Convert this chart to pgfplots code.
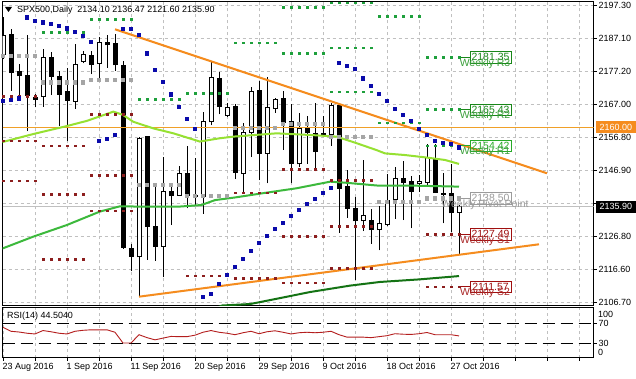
\documentclass[border=0pt]{standalone}
\usepackage{fontspec}
\setmainfont{Liberation Sans}
\usepackage{pgfplots}
\usepackage{pgfplotstable}
\pgfplotsset{compat=1.18}

\definecolor{gridc}{RGB}{192,192,192}
\definecolor{orng}{RGB}{245,140,30}
\definecolor{hlorng}{RGB}{240,160,40}
\definecolor{lgreen}{RGB}{150,225,50}
\definecolor{mgreen}{RGB}{60,185,60}
\definecolor{dgreen}{RGB}{20,115,20}
\definecolor{sarblue}{RGB}{10,10,170}
\definecolor{rdot}{RGB}{30,160,60}
\definecolor{pdot}{RGB}{165,165,165}
\definecolor{sdot}{RGB}{140,30,30}
\definecolor{rsic}{RGB}{180,30,30}
\definecolor{rlab}{RGB}{25,135,25}
\definecolor{rtxt}{RGB}{60,160,60}
\definecolor{r1lab}{RGB}{40,170,40}
\definecolor{plab}{RGB}{155,155,155}
\definecolor{slab}{RGB}{160,15,15}
\definecolor{stxt}{RGB}{170,40,40}

\pgfplotstableread{
x o h l c
0 2182.3 2193.6 2180.8 2187.9
1 2188.4 2190.0 2171.1 2176.7
2 2176.9 2179.2 2169.8 2175.7
3 2175.7 2188.1 2158.8 2169.8
4 2169.2 2170.1 2166.1 2168.5
5 2169.4 2183.8 2166.3 2181.3
6 2181.3 2182.8 2169.8 2175.5
7 2175.5 2177.2 2160.4 2170.1
8 2170.8 2178.2 2155.8 2168.3
9 2168.0 2185.4 2165.7 2179.2
10 2180.0 2183.1 2179.5 2182.3
11 2182.0 2183.3 2176.2 2179.2
12 2179.5 2187.4 2174.9 2185.7
13 2185.7 2188.1 2178.2 2185.1
14 2185.4 2188.4 2177.2 2179.0
15 2178.7 2180.2 2123.1 2123.6
16 2123.1 2124.4 2116.3 2120.9
17 2120.6 2157.1 2108.3 2156.5
18 2157.1 2157.3 2119.8 2130.0
19 2130.0 2142.0 2119.5 2123.8
20 2123.8 2151.0 2114.4 2140.5
21 2140.4 2143.0 2130.3 2139.2
22 2139.4 2148.4 2139.1 2145.9
23 2145.9 2154.4 2135.4 2139.2
24 2139.4 2150.7 2136.4 2138.9
25 2138.9 2164.8 2133.8 2161.7
26 2161.7 2180.0 2160.6 2175.2
27 2174.9 2176.7 2164.0 2166.3
28 2163.6 2167.5 2163.2 2166.0
29 2166.3 2167.0 2144.3 2146.3
30 2146.1 2161.4 2140.5 2158.6
31 2158.6 2172.4 2151.0 2170.9
32 2171.3 2174.1 2144.0 2152.2
33 2152.2 2175.2 2143.0 2166.0
34 2165.7 2168.8 2164.5 2168.5
35 2168.7 2171.1 2153.2 2161.4
36 2161.7 2167.0 2143.0 2148.9
37 2148.9 2164.5 2148.1 2159.7
38 2159.7 2163.4 2148.9 2158.5
39 2158.3 2167.5 2146.6 2152.7
40 2158.3 2163.4 2157.1 2157.8
41 2157.8 2167.5 2154.4 2166.7
42 2166.7 2167.0 2128.0 2141.5
43 2142.0 2147.1 2132.6 2135.4
44 2135.4 2138.7 2113.6 2131.6
45 2131.6 2150.2 2128.5 2133.3
46 2131.6 2135.1 2124.7 2128.9
47 2128.9 2136.1 2122.6 2130.8
48 2130.5 2145.9 2129.9 2137.9
49 2138.1 2148.1 2132.3 2144.6
50 2144.6 2149.7 2131.8 2143.2
51 2143.5 2145.1 2129.3 2140.5
52 2143.0 2145.6 2140.5 2143.6
53 2143.2 2155.1 2142.5 2150.7
54 2150.2 2155.1 2140.0 2140.2
55 2140.0 2146.1 2130.8 2139.5
56 2139.8 2148.9 2128.2 2134.0
57 2134.10 2136.47 2121.60 2135.90
}\candles

\pgfplotstableread{
x s
0 2168.13
1 2168.49
2 2168.86
3 2193.49
4 2192.51
5 2191.97
6 2191.45
7 2190.84
8 2190.14
9 2189.17
10 2187.80
11 2186.13
12 2155.96
13 2156.63
14 2157.70
15 2190.02
16 2190.02
17 2188.10
18 2182.54
19 2177.67
20 2173.90
21 2170.07
22 2166.30
23 2162.77
24 2159.73
25 2108.52
26 2109.35
27 2112.39
28 2115.12
29 2117.56
30 2120.20
31 2122.51
32 2124.95
33 2126.98
34 2129.11
35 2131.03
36 2133.06
37 2134.89
38 2136.71
39 2138.23
40 2140.15
41 2141.67
42 2179.68
43 2178.77
44 2177.76
45 2174.94
46 2172.60
47 2170.16
48 2168.03
49 2165.81
50 2163.78
51 2162.04
52 2159.73
53 2157.90
54 2156.08
55 2155.27
56 2155.01
57 2153.96
}\sar

\pgfplotstableread{
x R3 R2 R1 P S1 S2 S3
0 nan nan nan 2181.72 2169.55 2155.96 2143.80
1 nan nan nan 2181.72 2169.55 2155.96 2143.80
2 nan nan nan 2181.72 2169.55 2155.96 2143.80
3 nan nan nan 2181.72 2169.55 2155.96 2143.80
4 nan nan nan 2181.72 2169.55 2155.96 2143.80
5 nan nan 2188.92 2173.72 2154.44 2139.66 2119.90
6 nan nan 2188.92 2173.72 2154.44 2139.66 2119.90
7 nan nan 2188.92 2173.72 2154.44 2139.66 2119.90
8 nan nan 2188.92 2173.72 2154.44 2139.66 2119.90
9 nan nan 2188.92 2173.72 2154.44 2139.66 2119.90
10 nan nan 2188.92 2173.72 2154.44 2139.66 2119.90
11 nan nan 2192.88 2174.42 2163.99 2145.53 2134.68
12 nan nan 2192.88 2174.42 2163.99 2145.53 2134.68
13 nan nan 2192.88 2174.42 2163.99 2145.53 2134.68
14 nan nan 2192.88 2174.42 2163.99 2145.53 2134.68
15 nan nan 2192.88 2174.42 2163.99 2145.53 2134.68
16 nan nan 2192.88 2174.42 2163.99 2145.53 2134.68
17 nan nan 2168.64 2142.49 nan nan nan
18 nan nan 2168.64 2142.49 nan nan nan
19 nan nan 2168.64 2142.49 nan nan nan
20 nan nan 2168.64 2142.49 nan nan nan
21 nan nan 2168.64 2142.49 nan nan nan
22 nan nan 2168.64 2142.49 nan nan nan
23 nan nan 2170.38 2139.24 2114.91 nan nan
24 nan nan 2170.38 2139.24 2114.91 nan nan
25 nan nan 2170.38 2139.24 2114.91 nan nan
26 nan nan 2170.38 2139.24 2114.91 nan nan
27 nan nan 2170.38 2139.24 2114.91 nan nan
28 nan nan 2170.38 2139.24 2114.91 nan nan
29 nan nan 2185.76 2159.92 2140.15 2114.12 nan
30 nan nan 2185.76 2159.92 2140.15 2114.12 nan
31 nan nan 2185.76 2159.92 2140.15 2114.12 nan
32 nan nan 2185.76 2159.92 2140.15 2114.12 nan
33 nan nan 2185.76 2159.92 2140.15 2114.12 nan
34 nan nan 2185.76 2159.92 2140.15 2114.12 nan
35 nan 2196.53 2182.54 2161.25 2147.36 2126.89 2112.78
36 nan 2196.53 2182.54 2161.25 2147.36 2126.89 2112.78
37 nan 2196.53 2182.54 2161.25 2147.36 2126.89 2112.78
38 nan 2196.53 2182.54 2161.25 2147.36 2126.89 2112.78
39 nan 2196.53 2182.54 2161.25 2147.36 2126.89 2112.78
40 nan 2196.53 2182.54 2161.25 2147.36 2126.89 2112.78
41 2197.93 2184.24 2170.86 2157.18 2144.01 2130.02 2117.16
42 2197.93 2184.24 2170.86 2157.18 2144.01 2130.02 2117.16
43 2197.93 2184.24 2170.86 2157.18 2144.01 2130.02 2117.16
44 2197.93 2184.24 2170.86 2157.18 2144.01 2130.02 2117.16
45 2197.93 2184.24 2170.86 2157.18 2144.01 2130.02 2117.16
46 2197.93 2184.24 2170.86 2157.18 2144.01 2130.02 2117.16
47 nan 2193.88 2161.44 2137.41 nan nan nan
48 nan 2193.88 2161.44 2137.41 nan nan nan
49 nan 2193.88 2161.44 2137.41 nan nan nan
50 nan 2193.88 2161.44 2137.41 nan nan nan
51 nan 2193.88 2161.44 2137.41 nan nan nan
52 nan 2193.88 2161.44 2137.41 nan nan nan
53 2181.35 2165.43 2154.42 2138.50 2127.49 2111.57 nan
54 2181.35 2165.43 2154.42 2138.50 2127.49 2111.57 nan
55 2181.35 2165.43 2154.42 2138.50 2127.49 2111.57 nan
56 2181.35 2165.43 2154.42 2138.50 2127.49 2111.57 nan
57 2181.35 2165.43 2154.42 2138.50 2127.49 2111.57 nan
}\piv

\pgfplotstableread{
x r
0 62
1 54
2 52.5
3 50
4 48.5
5 55.5
6 53
7 50
8 48.5
9 54
10 56
11 57
12 57
13 57
14 52
15 30
16 30
17 47
18 41
19 36.5
20 40
21 43.5
22 43
23 43
24 46
25 52
26 55.5
27 52
28 50
29 47
30 51
31 54
32 49
33 53
34 55
35 52
36 48.5
37 51
38 52
39 51
40 52
41 54
42 47
43 42
44 42
45 42
46 41
47 43
48 45
49 49
50 48
51 47.5
52 49
53 51.5
54 47
55 47
56 47
57 44.5
}\rsidata

\begin{document}
\begin{tikzpicture}
\useasboundingbox (0,0) rectangle (636bp,379bp);
\fill[white] (0,0) rectangle (636bp,379bp);

\begin{axis}[
  name=main, at={(2.5bp,73.5bp)}, anchor=south west,
  scale only axis, width=591bp, height=303.5bp,
  xmin=-0.0625, xmax=73.8125, ymin=2105.85, ymax=2198.14,
  axis line style={line width=1bp, black},
  xtick={4,8,...,72}, xticklabels={}, xmajorgrids,
  ytick={2106.70,2116.75,2126.80,2136.85,2146.90,2156.95,2167.00,2177.05,2187.10,2197.15},
  yticklabels={2106.70,2116.60,2126.80,,2146.90,2156.80,2167.00,2177.20,2187.10,2197.30},
  ymajorgrids,
  grid style={gridc, dash pattern=on 3bp off 3bp, line width=0.8bp},
  major tick length=3bp,
  xtick style={draw=none},
  ytick pos=right, yticklabel pos=right, ytick align=outside,
  ytick style={black, line width=0.8bp},
  tick label style={font=\fontsize{9}{10}\selectfont, text=black},
  yticklabel style={anchor=west, inner sep=0pt, xshift=2bp},
  unbounded coords=discard,
]
% current price line
\addplot[gridc, line width=1bp] coordinates {(-0.0625,2135.9) (73.8125,2135.9)};
% candles: wicks
\addplot[black, line width=1bp, mark=none, quiver={u=0, v={\thisrow{h}-\thisrow{l}}}]
  table[x=x, y=l] {\candles};
% bullish bodies: black outline then white inside
\addplot[black, line width=5bp, mark=none, quiver={u=0, v={\thisrow{c}-\thisrow{o}+0.304}}]
  table[x=x, y expr={\thisrow{c}>=\thisrow{o} ? \thisrow{o}-0.152 : nan}] {\candles};
\addplot[white, line width=3bp, mark=none, quiver={u=0, v={max(\thisrow{c}-\thisrow{o}-0.304,0)}}]
  table[x=x, y expr={\thisrow{c}>=\thisrow{o} ? \thisrow{o}+0.152 : nan}] {\candles};
% bearish bodies
\addplot[black, line width=5bp, mark=none, quiver={u=0, v={\thisrow{o}-\thisrow{c}+0.304}}]
  table[x=x, y expr={\thisrow{c}<\thisrow{o} ? \thisrow{c}-0.152 : nan}] {\candles};
% horizontal 2160 line
\addplot[hlorng, line width=1bp] coordinates {(-0.0625,2160) (73.8125,2160)};
% moving averages
\addplot[lgreen, line width=2bp] coordinates {(-0.375,2155.35) (3.8,2158.0) (7.96,2160.4) (10.5,2162.0) (13.8,2164.8) (15.0,2163.8) (16.3,2161.7) (18.8,2159.7) (21.3,2158.2) (24.6,2155.7) (27.1,2156.7) (28.8,2157.2) (34.2,2158.2) (38.4,2157.7) (41.7,2157.2) (44.2,2155.2) (46.7,2153.1) (47.75,2152.1) (50.25,2151.6) (52.75,2150.9) (55.25,2150.1) (57,2148.9)};
\addplot[mgreen, line width=2bp] coordinates {(-0.375,2122.9) (3.8,2126.8) (7.96,2130.3) (12.1,2134.4) (14.6,2136.0) (18.2,2135.9) (21.9,2135.9) (24.8,2136.4) (26.5,2137.9) (29,2138.7) (32.5,2140.0) (36.7,2141.5) (40.9,2143.5) (42.75,2143.2) (46.9,2142.3) (51.1,2142.3) (57,2142.0)};
\addplot[dgreen, line width=2bp] coordinates {(26,2104.5) (27.4,2105.85) (30.9,2106.3) (33.4,2107.5) (38.4,2109.95) (43.4,2111.9) (47.1,2113.0) (52.1,2113.8) (57,2114.8)};
% trend lines
\addplot[orng, line width=2bp] coordinates {(14,2189.84) (68,2146.05)};
\addplot[orng, line width=2bp] coordinates {(17,2108.53) (67,2124.46)};
% pivot dots
\addplot[only marks, mark=square*, mark size=0.9bp, rdot, mark options={draw=none}] table[x=x,y=R3] {\piv};
\addplot[only marks, mark=square*, mark size=0.9bp, rdot, mark options={draw=none}] table[x=x,y=R2] {\piv};
\addplot[only marks, mark=square*, mark size=0.9bp, rdot, mark options={draw=none}] table[x=x,y=R1] {\piv};
\addplot[only marks, mark=square*, mark size=1.6bp, pdot, mark options={draw=none}] table[x=x,y=P] {\piv};
\addplot[only marks, mark=square*, mark size=0.9bp, sdot, mark options={draw=none}] table[x=x,y=S1] {\piv};
\addplot[only marks, mark=square*, mark size=0.9bp, sdot, mark options={draw=none}] table[x=x,y=S2] {\piv};
\addplot[only marks, mark=square*, mark size=0.9bp, sdot, mark options={draw=none}] table[x=x,y=S3] {\piv};
% parabolic SAR
\addplot[only marks, mark=square*, mark size=1.6bp, sarblue, mark options={draw=none}] table[x=x,y=s] {\sar};
% weekly labels
\begin{scope}[every node/.style={inner sep=0pt, font=\fontsize{10.5}{11}\selectfont}]
\draw[rlab, line width=1bp] (axis cs:56.9,2181.35) -- (axis cs:58.4,2181.35);
\draw[rlab, line width=1bp] (axis cs:56.9,2165.43) -- (axis cs:58.4,2165.43);
\draw[r1lab, line width=1bp] (axis cs:56.9,2154.42) -- (axis cs:58.4,2154.42);
\draw[plab, line width=1bp] (axis cs:56.9,2138.50) -- (axis cs:58.4,2138.50);
\draw[slab, line width=1bp] (axis cs:56.9,2127.49) -- (axis cs:58.4,2127.49);
\draw[slab, line width=1bp] (axis cs:56.9,2111.57) -- (axis cs:58.4,2111.57);
\node[draw=rlab, text=rlab, minimum width=41bp, minimum height=11.5bp] at (axis cs:60.94,2181.35) {2181.35};
\node[draw=rlab, text=rlab, minimum width=41bp, minimum height=11.5bp] at (axis cs:60.94,2165.43) {2165.43};
\node[draw=r1lab, text=r1lab, minimum width=41bp, minimum height=11.5bp] at (axis cs:60.94,2154.42) {2154.42};
\node[draw=plab, text=plab, minimum width=41bp, minimum height=11.5bp] at (axis cs:60.94,2138.50) {2138.50};
\node[draw=slab, text=slab, minimum width=41bp, minimum height=11.5bp] at (axis cs:60.94,2127.49) {2127.49};
\node[draw=slab, text=slab, minimum width=41bp, minimum height=11.5bp] at (axis cs:60.94,2111.57) {2111.57};
\node[text=rtxt, yshift=-6.5bp] at (axis cs:60.25,2181.35) {Weekly R3};
\node[text=rtxt, yshift=-6.5bp] at (axis cs:60.25,2165.43) {Weekly R2};
\node[text=rtxt, yshift=-6.5bp] at (axis cs:60.25,2154.42) {Weekly R1};
\node[text=plab, yshift=-6.5bp] at (axis cs:60.25,2138.50) {Weekly Pivot Point};
\node[text=stxt, yshift=-6.5bp] at (axis cs:60.25,2127.49) {Weekly S1};
\node[text=stxt, yshift=-6.5bp] at (axis cs:60.25,2111.57) {Weekly S2};
\end{scope}
\coordinate (c2160) at (axis cs:73.8125,2160);
\coordinate (c2135) at (axis cs:73.8125,2135.9);
\end{axis}

\begin{axis}[
  name=rsi, at={(2.5bp,21.3bp)}, anchor=south west,
  scale only axis, width=591bp, height=50.4bp,
  xmin=-0.0625, xmax=73.8125, ymin=0, ymax=103,
  axis line style={line width=1bp, black},
  xtick={0,4,...,72},
  xticklabels={23 Aug 2016,,1 Sep 2016,,11 Sep 2016,,20 Sep 2016,,29 Sep 2016,,9 Oct 2016,,18 Oct 2016,,27 Oct 2016},
  xmajorgrids,
  grid style={gridc, dash pattern=on 3bp off 3bp, line width=0.8bp},
  major tick length=3bp,
  xtick pos=bottom, xtick align=outside,
  ytick={30,70}, yticklabels={30,70},
  ytick pos=right, yticklabel pos=right, ytick align=outside,
  tick style={black, line width=0.8bp},
  tick label style={font=\fontsize{9}{10}\selectfont, text=black},
  yticklabel style={anchor=west, inner sep=0pt, xshift=2bp},
  xticklabel style={anchor=north west, inner sep=0pt, xshift=-0.5bp, yshift=-2bp},
]
\addplot[black, line width=1bp, dash pattern=on 12bp off 6bp] coordinates {(-0.0625,70) (73.8125,70)};
\addplot[black, line width=1bp, dash pattern=on 12bp off 6bp] coordinates {(-0.0625,30) (73.8125,30)};
\addplot[rsic, line width=0.9bp] table[x=x,y=r] {\rsidata};
\end{axis}

% right price boxes
\node[fill=orng, text=white, anchor=west, minimum width=40.5bp, minimum height=12bp, inner sep=0pt, font=\fontsize{9}{10}\selectfont] at ([xshift=2bp]c2160) {2160.00};
\node[fill=black, text=white, anchor=west, minimum width=40.5bp, minimum height=12bp, inner sep=0pt, font=\fontsize{9}{10}\selectfont] at ([xshift=2bp]c2135) {2135.90};
% RSI extra labels
\node[anchor=west, inner sep=0pt, font=\fontsize{9}{10}\selectfont] at (598bp,65bp) {100};
\node[anchor=west, inner sep=0pt, font=\fontsize{9}{10}\selectfont] at (598bp,27bp) {0};
% titles
\fill[black] (5bp,372bp) -- (12bp,372bp) -- (8.5bp,367bp) -- cycle;
\node[anchor=west, inner sep=0pt, font=\fontsize{9}{10}\selectfont] at (17bp,369bp) {SPX500,Daily\ \ 2134.10 2136.47 2121.60 2135.90};
\node[anchor=west, inner sep=0pt, font=\fontsize{9}{10}\selectfont] at (7bp,63bp) {RSI(14) 44.5040};
\end{tikzpicture}
\end{document}
